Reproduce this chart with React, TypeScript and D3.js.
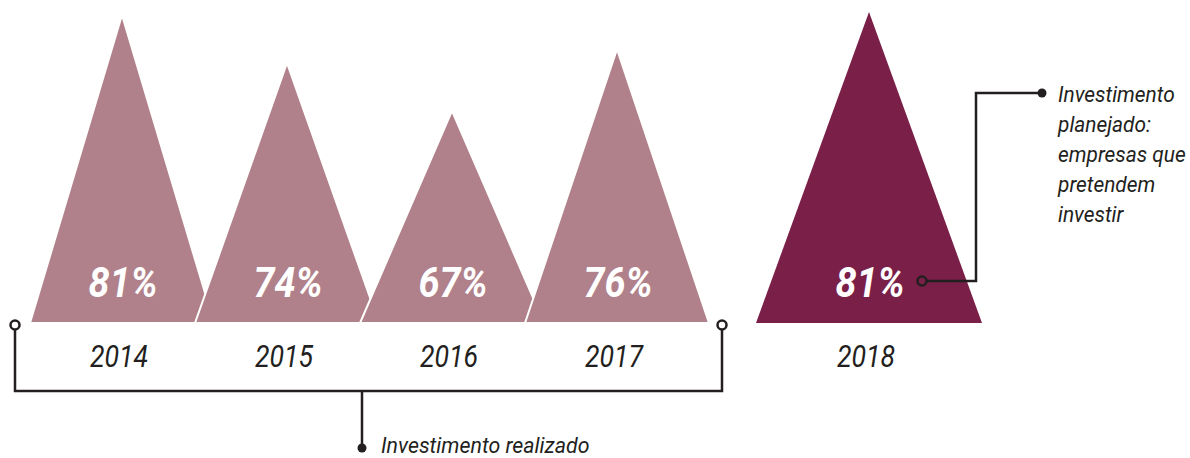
import React from "react";
import * as d3 from "d3";

const realizedYears = [2014, 2015, 2016, 2017];
const realizedValues = [81, 74, 67, 76];
const plannedYears = [2018];
const plannedValues = [81];
const realizedLabel = "Investimento realizado";
const plannedLabel = ["Investimento", "planejado:", "empresas que", "pretendem", "investir"];

const W = 1190;
const H = 458;
const BASE = 323;
const LIGHT = "#b0818a";
const DARK = "#7a1f47";
const INK = "#231f20";
const FONT = "Roboto, 'Liberation Sans', sans-serif";

function T(props: {
  x: number;
  y: number;
  sx: number;
  size: number;
  fill: string;
  anchor?: string;
  weight?: string | number;
  children: React.ReactNode;
}) {
  return (
    <text
      transform={`translate(${props.x},${props.y}) scale(${props.sx},1)`}
      textAnchor={props.anchor || "start"}
      fill={props.fill}
      fontSize={props.size}
      fontWeight={props.weight || "normal"}
      fontStyle="italic"
    >
      {props.children}
    </text>
  );
}

export default function App() {
  const x = d3.scaleLinear().domain([2014, 2017]).range([122, 617]);
  const y = d3.scaleLinear().domain([36, 81]).range([BASE, 15]);
  const plannedX = (yr: number) => x(yr) + 87;
  const halfW = 92;
  const halfWPlanned = 113;

  const tri = (cx: number, top: number, hw: number) => {
    const p = d3.path();
    p.moveTo(cx - hw, BASE);
    p.lineTo(cx, top);
    p.lineTo(cx + hw, BASE);
    p.closePath();
    return p.toString();
  };

  const realized = realizedYears.map((yr, i) => ({ yr, v: realizedValues[i], cx: x(yr) }));
  const planned = plannedYears.map((yr, i) => ({ yr, v: plannedValues[i], cx: plannedX(yr) }));

  const leftX = 15;
  const rightX = 722;
  const bracketY = 391;
  const stemX = 362;
  const dotY = 448;

  const pc = planned[0];
  const annCircleX = pc.cx + 53;
  const annCircleY = 281;
  const annElbowX = 976;
  const annTopY = 93;
  const annDotX = 1042;

  return (
    <svg width={W} height={H} style={{ position: "absolute", left: 0, top: 0, background: "#fff" }} fontFamily={FONT}>
      {realized.map((d) => (
        <path key={d.yr} d={tri(d.cx, y(d.v), halfW)} fill={LIGHT} stroke="#fff" strokeWidth={2} strokeLinejoin="miter" strokeMiterlimit={20} />
      ))}
      {planned.map((d) => (
        <path key={d.yr} d={tri(d.cx, y(d.v) - 3, halfWPlanned)} fill={DARK} />
      ))}
      {[...realized, ...planned].map((d) => (
        <g key={"t" + d.yr}>
          <T x={d.cx + 1} y={297} sx={0.9} size={42} fill="#fff" anchor="middle" weight="bold">
            {d.v}%
          </T>
          <T x={d.cx - 3} y={367} sx={0.86} size={31} fill={INK} anchor="middle">
            {d.yr}
          </T>
        </g>
      ))}
      {/* realized bracket */}
      <path
        d={`M${leftX},${BASE + 5}V${bracketY}H${rightX}V${BASE + 5}`}
        fill="none"
        stroke={INK}
        strokeWidth={2.5}
      />
      <line x1={stemX} x2={stemX} y1={bracketY} y2={dotY} stroke={INK} strokeWidth={2.5} />
      <circle cx={leftX} cy={BASE + 2} r={4.5} fill="#fff" stroke={INK} strokeWidth={2.5} />
      <circle cx={rightX} cy={BASE + 2} r={4.5} fill="#fff" stroke={INK} strokeWidth={2.5} />
      <circle cx={stemX} cy={dotY} r={4.5} fill={INK} />
      <T x={381} y={453} sx={0.97} size={22} fill={INK}>
        {realizedLabel}
      </T>
      {/* planned annotation */}
      <path
        d={`M${annCircleX + 5},${annCircleY}H${annElbowX}V${annTopY}H${annDotX}`}
        fill="none"
        stroke={INK}
        strokeWidth={2.5}
      />
      <circle cx={annCircleX} cy={annCircleY} r={4.5} fill={DARK} stroke={INK} strokeWidth={2.5} />
      <circle cx={annDotX} cy={annTopY} r={4.5} fill={INK} />
      {plannedLabel.map((t, i) => (
        <T key={t} x={1058} y={102 + i * 30} sx={0.95} size={22} fill={INK}>
          {t}
        </T>
      ))}
    </svg>
  );
}
